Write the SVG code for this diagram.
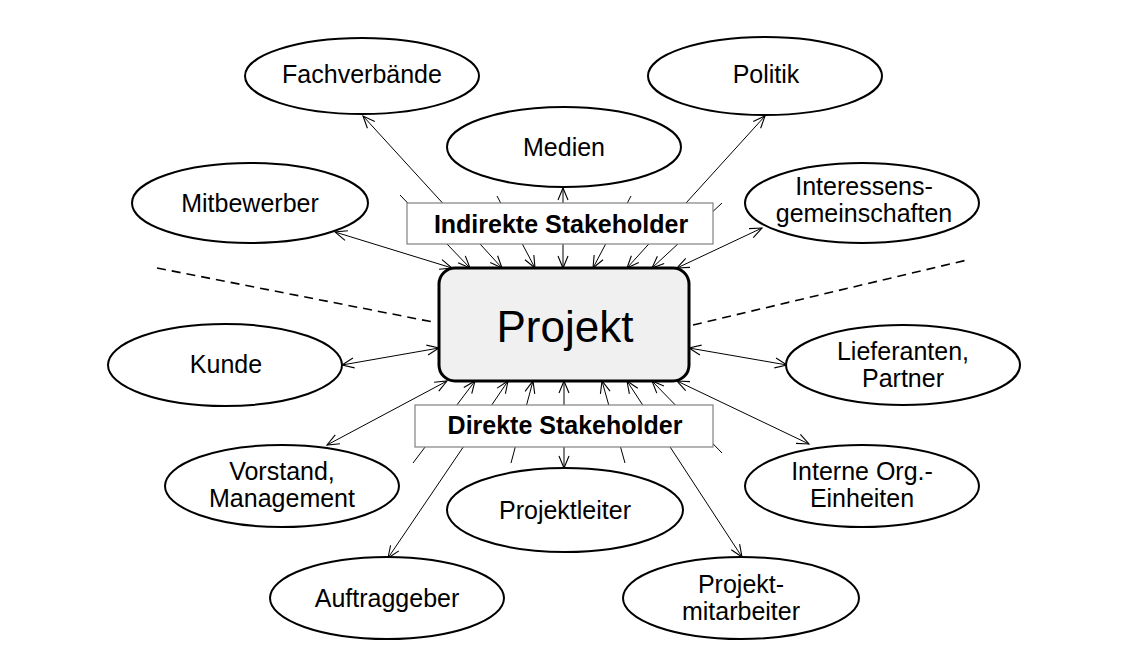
<svg xmlns="http://www.w3.org/2000/svg" width="1146" height="660" viewBox="0 0 1146 660">
<style>
.el{fill:#fff;stroke:#000;stroke-width:2}
.t{font-family:"Liberation Sans",Arial,sans-serif;font-size:25px;fill:#000;text-anchor:middle}
.b{font-family:"Liberation Sans",Arial,sans-serif;font-size:25px;font-weight:bold;fill:#000;text-anchor:middle}
.c{stroke:#000;stroke-width:1;fill:none}
.d{stroke:#000;stroke-width:1.6;fill:none;stroke-dasharray:9,6}
.lb{fill:#fff;stroke:#808080;stroke-width:1.2}
</style>
<defs>
<marker id="a" markerUnits="userSpaceOnUse" markerWidth="16" markerHeight="14" refX="13" refY="6" orient="auto-start-reverse" viewBox="0 0 16 12">
<path d="M1,1 L13,6 L1,11" fill="none" stroke="#000" stroke-width="1.1"/>
</marker>
</defs>
<rect width="1146" height="660" fill="#fff"/>
<g id="connectors">
<line class="d" x1="157" y1="268" x2="433" y2="322"/>
<line class="d" x1="693" y1="325" x2="967" y2="260"/>
<line class="c" x1="335" y1="232" x2="452" y2="268" marker-start="url(#a)" marker-end="url(#a)"/>
<line class="c" x1="400" y1="195" x2="470" y2="268" marker-end="url(#a)"/>
<line class="c" x1="363" y1="116" x2="502" y2="268" marker-start="url(#a)" marker-end="url(#a)"/>
<line class="c" x1="497" y1="196" x2="535" y2="268" marker-end="url(#a)"/>
<line class="c" x1="563" y1="188" x2="563" y2="268" marker-start="url(#a)" marker-end="url(#a)"/>
<line class="c" x1="631" y1="196" x2="593" y2="268" marker-end="url(#a)"/>
<line class="c" x1="765" y1="116" x2="627" y2="268" marker-start="url(#a)" marker-end="url(#a)"/>
<line class="c" x1="722" y1="203" x2="652" y2="268" marker-end="url(#a)"/>
<line class="c" x1="762" y1="228" x2="677" y2="268" marker-start="url(#a)" marker-end="url(#a)"/>
<line class="c" x1="342" y1="365" x2="439" y2="348" marker-start="url(#a)" marker-end="url(#a)"/>
<line class="c" x1="787" y1="365" x2="689" y2="348" marker-start="url(#a)" marker-end="url(#a)"/>
<line class="c" x1="327" y1="445" x2="447" y2="381" marker-start="url(#a)" marker-end="url(#a)"/>
<line class="c" x1="413" y1="463" x2="475" y2="381" marker-end="url(#a)"/>
<line class="c" x1="388" y1="558" x2="508" y2="381" marker-start="url(#a)" marker-end="url(#a)"/>
<line class="c" x1="511" y1="463" x2="533" y2="381" marker-end="url(#a)"/>
<line class="c" x1="564" y1="468" x2="564" y2="381" marker-start="url(#a)" marker-end="url(#a)"/>
<line class="c" x1="625" y1="463" x2="602" y2="381" marker-end="url(#a)"/>
<line class="c" x1="742" y1="557" x2="627" y2="381" marker-start="url(#a)" marker-end="url(#a)"/>
<line class="c" x1="722" y1="453" x2="652" y2="381" marker-end="url(#a)"/>
<line class="c" x1="809" y1="444" x2="677" y2="381" marker-start="url(#a)" marker-end="url(#a)"/>
</g>
<g id="label-indirekt">
<rect class="lb" x="407" y="203" width="306" height="41"/>
<text class="b" x="561" y="233">Indirekte Stakeholder</text>
</g>
<g id="label-direkt">
<rect class="lb" x="415" y="405" width="298" height="42"/>
<text class="b" x="565" y="434">Direkte Stakeholder</text>
</g>
<g id="projekt">
<rect x="439" y="268" width="250" height="113" rx="16" ry="16" fill="#f0f0f0" stroke="#000" stroke-width="3"/>
<text class="t" x="565" y="342" style="font-size:44px">Projekt</text>
</g>
<g id="fachverbaende">
<ellipse class="el" cx="362" cy="76" rx="117" ry="38"/>
<text class="t" x="362" y="83">Fachverbände</text>
</g>
<g id="politik">
<ellipse class="el" cx="765" cy="76" rx="117" ry="39"/>
<text class="t" x="766" y="83">Politik</text>
</g>
<g id="medien">
<ellipse class="el" cx="564" cy="147" rx="117" ry="40"/>
<text class="t" x="564" y="156">Medien</text>
</g>
<g id="mitbewerber">
<ellipse class="el" cx="250" cy="203" rx="118" ry="40"/>
<text class="t" x="250" y="212">Mitbewerber</text>
</g>
<g id="interessens">
<ellipse class="el" cx="862" cy="203" rx="117" ry="40"/>
<text class="t" x="864" y="195">Interessens-</text>
<text class="t" x="864" y="222">gemeinschaften</text>
</g>
<g id="kunde">
<ellipse class="el" cx="225" cy="365" rx="117" ry="41"/>
<text class="t" x="226" y="373">Kunde</text>
</g>
<g id="lieferanten">
<ellipse class="el" cx="903" cy="365" rx="117" ry="40"/>
<text class="t" x="903" y="360">Lieferanten,</text>
<text class="t" x="903" y="387">Partner</text>
</g>
<g id="vorstand">
<ellipse class="el" cx="282" cy="486" rx="117" ry="41"/>
<text class="t" x="282" y="480">Vorstand,</text>
<text class="t" x="282" y="507">Management</text>
</g>
<g id="projektleiter">
<ellipse class="el" cx="565" cy="510" rx="118" ry="42"/>
<text class="t" x="565" y="519">Projektleiter</text>
</g>
<g id="interne">
<ellipse class="el" cx="862" cy="486" rx="117" ry="41"/>
<text class="t" x="862" y="480">Interne Org.-</text>
<text class="t" x="862" y="507">Einheiten</text>
</g>
<g id="auftraggeber">
<ellipse class="el" cx="387" cy="598" rx="117" ry="41"/>
<text class="t" x="387" y="607">Auftraggeber</text>
</g>
<g id="projektmitarbeiter">
<ellipse class="el" cx="741" cy="598" rx="118" ry="41"/>
<text class="t" x="741" y="593">Projekt-</text>
<text class="t" x="741" y="620">mitarbeiter</text>
</g>
</svg>
